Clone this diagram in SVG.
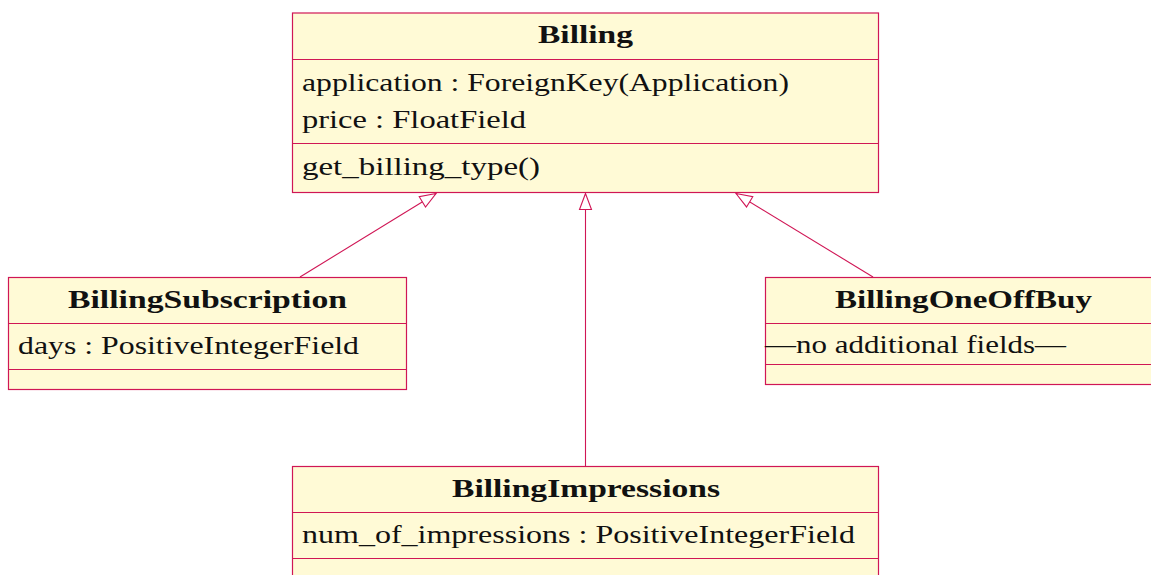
<svg xmlns="http://www.w3.org/2000/svg" width="1151" height="575" viewBox="0 0 1151 575">
<style>
.box{fill:#fffad6;stroke:#d01655;stroke-width:1.2}
.div{stroke:#d01655;stroke-width:1.2}
.t{font-family:"Liberation Serif","DejaVu Serif",serif;font-size:26px;fill:#111}
.b{font-weight:bold;text-anchor:middle}
.c{fill:none;stroke:#d01655;stroke-width:1.1}
</style>
<defs>
<marker id="inh" markerUnits="userSpaceOnUse" markerWidth="24" markerHeight="16" viewBox="-18 -8 20 16" refX="0" refY="0" orient="auto">
<path d="M0,0 L-16,-6 L-16,6 Z" fill="#ffffff" stroke="#d01655" stroke-width="1.1"/>
</marker>
</defs>
<rect width="1151" height="575" fill="#ffffff"/>
<g id="connectors">
<line class="c" x1="300" y1="277" x2="436" y2="193.5" marker-end="url(#inh)"/>
<line class="c" x1="585.5" y1="466" x2="585.5" y2="193.5" marker-end="url(#inh)"/>
<line class="c" x1="873" y1="277" x2="736" y2="193.5" marker-end="url(#inh)"/>
</g>
<g id="Billing">
<rect class="box" x="292.5" y="13" width="586" height="179.5"/>
<line class="div" x1="292.5" y1="59.5" x2="878.5" y2="59.5"/>
<line class="div" x1="292.5" y1="143.5" x2="878.5" y2="143.5"/>
<text class="t b" x="585.5" y="43" textLength="95" lengthAdjust="spacingAndGlyphs">Billing</text>
<text class="t" x="302" y="91" textLength="487" lengthAdjust="spacingAndGlyphs">application : ForeignKey(Application)</text>
<text class="t" x="302" y="127.5" textLength="224" lengthAdjust="spacingAndGlyphs">price : FloatField</text>
<text class="t" x="302" y="175" textLength="238" lengthAdjust="spacingAndGlyphs">get_billing_type()</text>
</g>
<g id="BillingSubscription">
<rect class="box" x="8.5" y="277.5" width="398" height="112"/>
<line class="div" x1="8.5" y1="323.5" x2="406.5" y2="323.5"/>
<line class="div" x1="8.5" y1="369.5" x2="406.5" y2="369.5"/>
<text class="t b" x="207.5" y="307.5" textLength="279" lengthAdjust="spacingAndGlyphs">BillingSubscription</text>
<text class="t" x="18" y="354" textLength="341" lengthAdjust="spacingAndGlyphs">days : PositiveIntegerField</text>
</g>
<g id="BillingOneOffBuy">
<rect class="box" x="765.5" y="277.5" width="397" height="107"/>
<line class="div" x1="765.5" y1="323.5" x2="1162.5" y2="323.5"/>
<line class="div" x1="765.5" y1="364.5" x2="1162.5" y2="364.5"/>
<text class="t b" x="963.5" y="307.5" textLength="257" lengthAdjust="spacingAndGlyphs">BillingOneOffBuy</text>
<text class="t" x="765" y="353" textLength="301" lengthAdjust="spacingAndGlyphs">—no additional fields—</text>
</g>
<g id="BillingImpressions">
<rect class="box" x="292.5" y="466.5" width="586" height="130"/>
<line class="div" x1="292.5" y1="512.5" x2="878.5" y2="512.5"/>
<line class="div" x1="292.5" y1="558.5" x2="878.5" y2="558.5"/>
<text class="t b" x="586" y="497" textLength="268" lengthAdjust="spacingAndGlyphs">BillingImpressions</text>
<text class="t" x="302" y="543" textLength="553" lengthAdjust="spacingAndGlyphs">num_of_impressions : PositiveIntegerField</text>
</g>
</svg>
